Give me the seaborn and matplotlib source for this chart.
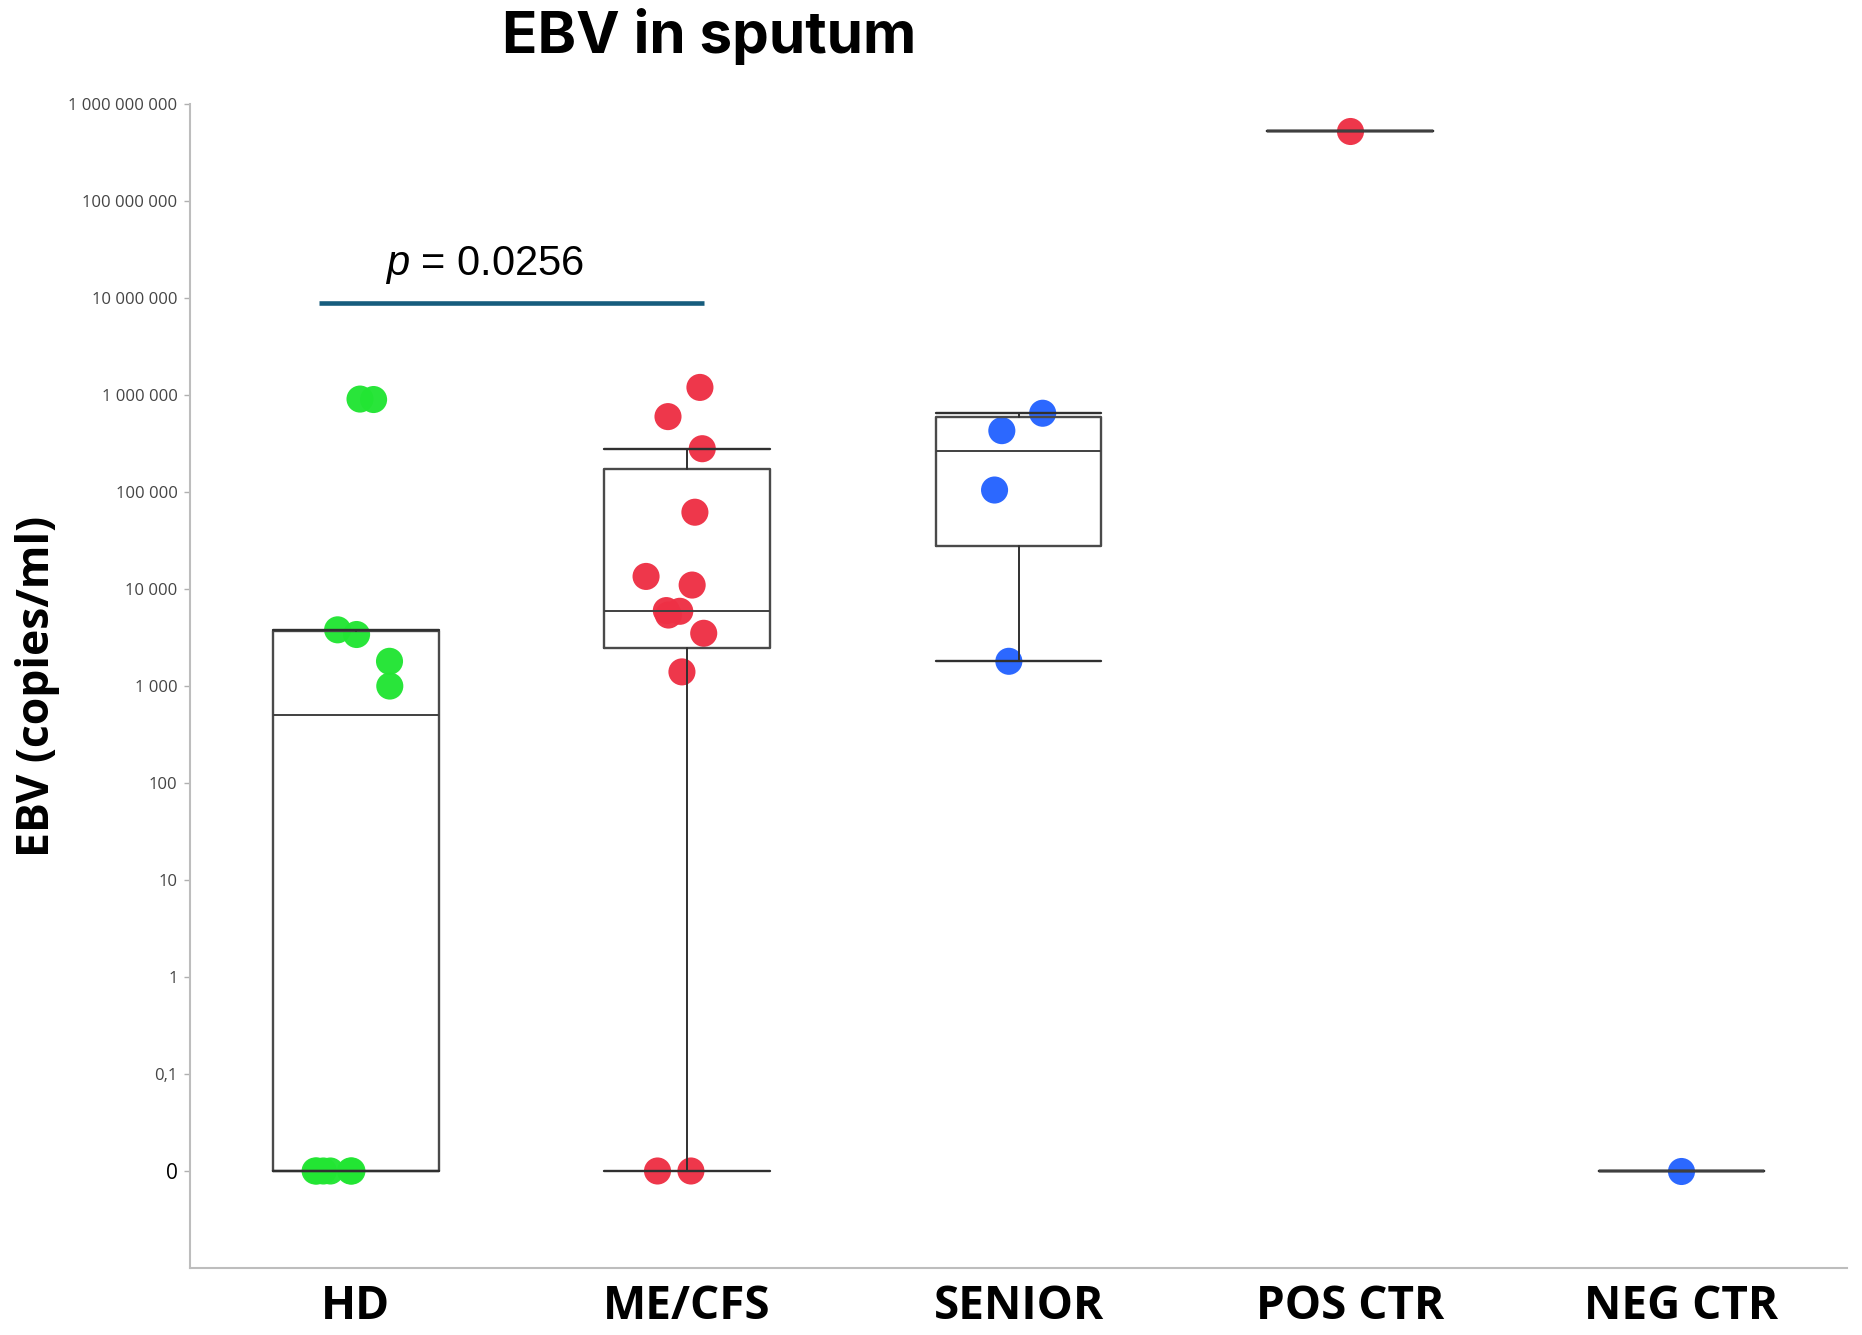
import numpy as np
import pandas as pd
import matplotlib
matplotlib.use("Agg")
import matplotlib.pyplot as plt
import seaborn as sns

# ---------------- data ----------------
categories = ["HD", "ME/CFS", "SENIOR", "POS CTR", "NEG CTR"]
hd_values = [9.1e5, 9.0e5, 3.8e3, 3.4e3, 1.8e3, 1.0e3, 0, 0, 0, 0, 0, 0]
mecfs_values = [1.2e6, 6.0e5, 2.8e5, 6.2e4, 1.35e4, 1.1e4, 6.0e3, 5.9e3, 5.4e3,
                3.5e3, 1.4e3, 0, 0]
senior_values = [6.5e5, 4.3e5, 1.05e5, 1.8e3]
pos_ctr_values = [5.3e8]
neg_ctr_values = [0]
group_colors = ["#22e533", "#ee3045", "#2563ff", "#ee3045", "#2563ff"]

ytick_values = [0, 0.1, 1, 10, 100, 1e3, 1e4, 1e5, 1e6, 1e7, 1e8, 1e9]
ytick_labels = ["0", "0,1", "1", "10", "100", "1 000", "10 000", "100 000",
                "1 000 000", "10 000 000", "100 000 000", "1 000 000 000"]
zero_level = 0.01  # where "0" is placed on the log axis
p_text = "$p$ = 0.0256"
p_groups = ("HD", "ME/CFS")
p_level = 9e6
title = "EBV in sputum"
ylabel = "EBV (copies/ml)"

# ---------------- styling ----------------
sns.set_style("white")
plt.rcParams["font.family"] = ["Open Sans", "DejaVu Sans"]
plt.rcParams["text.color"] = "black"
plt.rcParams["axes.labelcolor"] = "black"
plt.rcParams["xtick.color"] = "black"
plt.rcParams["mathtext.fontset"] = "custom"
plt.rcParams["mathtext.it"] = "Liberation Sans:italic"
plt.rcParams["mathtext.rm"] = "Liberation Sans"

all_values = [hd_values, mecfs_values, senior_values, pos_ctr_values, neg_ctr_values]
df = pd.DataFrame({
    "group": np.concatenate([[c] * len(v) for c, v in zip(categories, all_values)]),
    "value": np.concatenate([np.asarray(v, float) for v in all_values]),
})
df["plot_value"] = df["value"].where(df["value"] > 0, zero_level)

fig = plt.figure(figsize=(18.62, 13.35), dpi=100)
ax = fig.add_axes([0.102, 0.0502, 0.890, 0.8718])
ax.set_yscale("log")

np.random.seed(3)
sns.stripplot(data=df, x="group", y="plot_value", hue="group", order=categories,
              hue_order=categories, palette=group_colors, jitter=0.13, size=19.5,
              linewidth=0, alpha=0.97, legend=False, ax=ax, zorder=1)

# box statistics (exclusive quartiles, 1.5 IQR whiskers)
def pos(v):
    return v if v > 0 else zero_level

stats = []
for c, v in zip(categories, all_values):
    a = np.sort(np.asarray(v, float))
    if len(a) >= 2:
        q1, med, q3 = np.percentile(a, [25, 50, 75], method="weibull")
    else:
        q1 = med = q3 = a[0]
    iqr = q3 - q1
    hi = a[a <= q3 + 1.5 * iqr].max()
    lo = a[a >= q1 - 1.5 * iqr].min()
    stats.append(dict(label=c, q1=pos(q1), med=pos(med), q3=pos(q3),
                      whislo=pos(lo), whishi=pos(hi), fliers=[]))

ax.bxp(stats, positions=range(len(categories)), widths=0.5, capwidths=0.5,
       showfliers=False, manage_ticks=False,
       boxprops=dict(color="#4a4a4a", linewidth=1.7),
       medianprops=dict(color="#404040", linewidth=1.4),
       whiskerprops=dict(color="#303030", linewidth=1.4),
       capprops=dict(color="#303030", linewidth=1.7), zorder=3)

# significance bar
x0 = categories.index(p_groups[0]) - 0.11
x1 = categories.index(p_groups[1]) + 0.05
ax.plot([x0, x1], [p_level, p_level], color="#165c7d", linewidth=3.3,
        solid_capstyle="butt", zorder=2)
ax.text((x0 + x1) / 2 - 0.08, p_level * 2.45, p_text, ha="center", va="center",
        fontsize=30, family="Liberation Sans", color="black")

# axes
ax.set_xlim(-0.5, len(categories) - 0.5)
ax.set_ylim(1e-3, 1e9)
ax.set_yticks([pos(t) for t in ytick_values])
ax.set_yticklabels(ytick_labels)
ax.minorticks_off()
ax.tick_params(axis="y", left=True, length=4, width=1, color="#b0b0b0", pad=5,
               labelcolor="#444444", labelsize=12)
ax.tick_params(axis="x", length=0, pad=11, labelcolor="black", labelsize=33)
for lab in ax.get_yticklabels():
    if lab.get_text() == "0":
        lab.set_color("black")
        lab.set_fontsize(15)
for lab in ax.get_xticklabels():
    lab.set_fontweight("bold")
ax.set_xlabel("")
ax.set_ylabel(ylabel, fontsize=32, fontweight="bold", va="center", color="black")
ax.yaxis.set_label_coords(-0.092, 0.5)

sns.despine(ax=ax)
for s in ["left", "bottom"]:
    ax.spines[s].set_color("#bdbdbd")
    ax.spines[s].set_linewidth(1.5)

fig.text(0.381, 0.973, title, ha="center", va="center", fontsize=42,
         fontweight="bold", color="black", family=["Inter", "DejaVu Sans"])

fig.savefig("out.png", dpi=100)
